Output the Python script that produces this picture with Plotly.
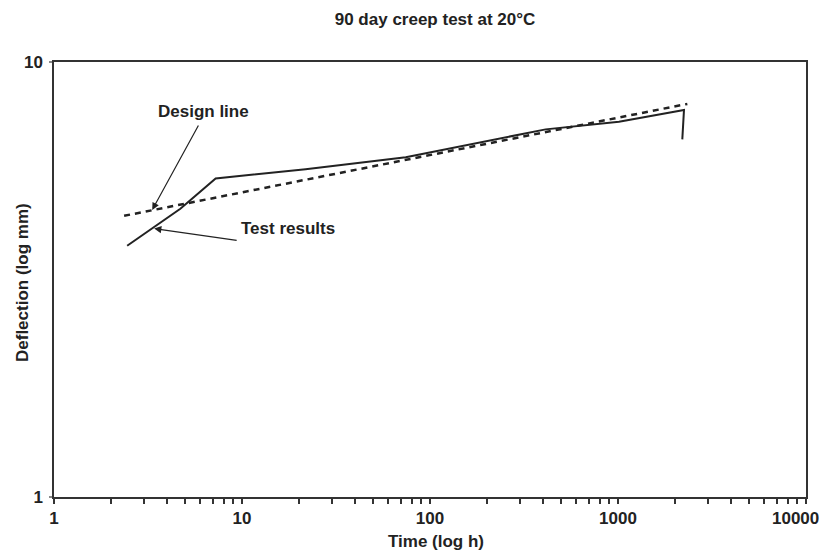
import plotly.graph_objects as go
import math

# Data
test_time = [2.45, 4.7, 7.24, 21.8, 74.3, 412, 1012, 2244, 2198]
test_defl = [3.78, 4.6, 5.40, 5.67, 6.04, 7.00, 7.29, 7.76, 6.64]

design_time = [2.36, 2338]
design_defl = [4.43, 8.01]

x_ticks = [1, 10, 100, 1000, 10000]
x_tick_labels = ["1", "10", "100", "1000", "10000"]
y_ticks = [1, 10]
y_tick_labels = ["1", "10"]

FONT = "Liberation Sans, Arial, sans-serif"
INK = "#222222"
FS = 17

# page body adds an 8px offset; work in screenshot coordinates and compensate
OFF = 8
W, H = 829 - OFF, 554 - OFF
PL, PR, PT, PB = 54, 806, 62, 497  # plot area in screenshot pixels
L, T = PL - OFF, PT - OFF
R, B = W - (PR - OFF), H - (PB - OFF)
pw, ph = PR - PL, PB - PT


def px(x):
    return (x - PL) / pw


def py(y):
    return 1 - (y - PT) / ph


fig = go.Figure()
fig.add_trace(go.Scatter(x=design_time, y=design_defl, mode="lines",
                         line=dict(color=INK, width=2.5, dash="6px,5px"),
                         showlegend=False, hoverinfo="skip"))
fig.add_trace(go.Scatter(x=test_time, y=test_defl, mode="lines",
                         line=dict(color=INK, width=2),
                         showlegend=False, hoverinfo="skip"))

# arrows
fig.add_annotation(x=math.log10(3.33), y=math.log10(4.57), xref="x", yref="y",
                   text="", showarrow=True, arrowhead=2, arrowsize=1.2, arrowwidth=1.2,
                   arrowcolor=INK, ax=47, ay=-86)
fig.add_annotation(x=math.log10(3.41), y=math.log10(4.14), xref="x", yref="y",
                   text="", showarrow=True, arrowhead=2, arrowsize=1.2, arrowwidth=1.2,
                   arrowcolor=INK, ax=84, ay=12)

def label(x, y, text, angle=0):
    fig.add_annotation(x=px(x), y=py(y), xref="paper", yref="paper", text=text,
                       xanchor="center", yanchor="middle", textangle=angle,
                       showarrow=False, font=dict(family=FONT, size=FS, color=INK))

label(203, 111, "<b>Design line</b>")
label(288, 228, "<b>Test results</b>")
label(436, 541, "<b>Time (log h)</b>")
label(22, 283, "<b>Deflection (log mm)</b>", angle=-90)
# last x tick label sits left of its tick so it stays inside the page
label(795, 518, "<b>%s</b>" % x_tick_labels[-1])

fig.update_layout(
    width=W, height=H,
    margin=dict(l=L, r=R, t=T, b=B),
    paper_bgcolor="white", plot_bgcolor="white",
    font=dict(family=FONT, color=INK),
    title=dict(text="<b>90 day creep test at 20°C</b>", x=(435 - OFF) / W, xanchor="center",
               y=1 - (19 - OFF) / H, yanchor="middle", font=dict(size=FS, family=FONT, color=INK)),
)
fig.update_xaxes(type="log", range=[0, 4], tickvals=x_ticks,
                 ticktext=["<b>%s</b>" % t for t in x_tick_labels[:-1]] + [""],
                 ticks="outside", ticklen=5, tickwidth=1.5, tickcolor="#333",
                 ticklabelstandoff=0, automargin=False, ticklabeloverflow="allow",
                 showline=True, linecolor="#333", linewidth=1.5, mirror=True,
                 showgrid=False, zeroline=False,
                 tickfont=dict(size=FS, family=FONT, color=INK),
                 minor=dict(ticks="outside", ticklen=5, tickwidth=1.5, tickcolor="#333",
                            dtick="D1", showgrid=False))
fig.update_yaxes(type="log", range=[0, 1], tickvals=y_ticks,
                 ticktext=["<b>%s</b>" % t for t in y_tick_labels],
                 ticks="outside", ticklen=3, tickwidth=1.5, tickcolor="#888",
                 ticklabelstandoff=3, automargin=False, ticklabeloverflow="allow",
                 showline=True, linecolor="#333", linewidth=1.5, mirror=True,
                 showgrid=False, zeroline=False,
                 tickfont=dict(size=FS, family=FONT, color=INK))

fig.write_html("out.html")
